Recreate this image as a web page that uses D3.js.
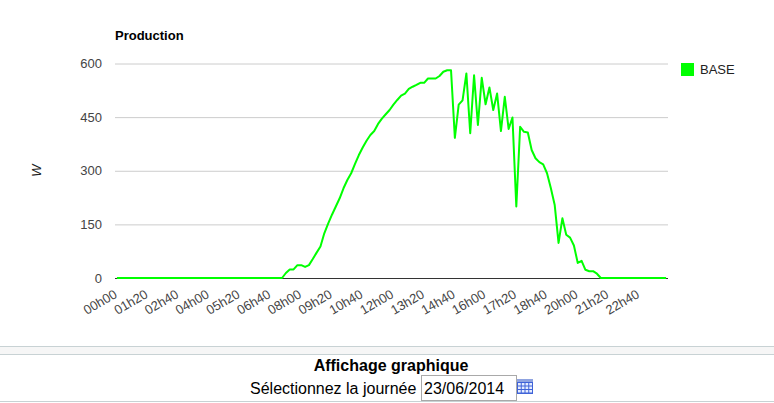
<!DOCTYPE html>
<html>
<head>
<meta charset="utf-8">
<script src="https://cdn.jsdelivr.net/npm/d3@7"></script>
<style>
    html, body { margin: 0; padding: 0; background: #fff; overflow: hidden; }
    text { font-family: "Liberation Sans", Arial, sans-serif; }
</style>
</head>
<body>
<svg id="chart" width="774" height="403"></svg>
<script>
// Power readings, one every 10 minutes (W)
const baseValues = [
    0, 0, 0, 0, 0, 0, 0, 0, 0, 0, 0, 0,
    0, 0, 0, 0, 0, 0, 0, 0, 0, 0, 0, 0,
    0, 0, 0, 0, 0, 0, 0, 0, 0, 0, 0, 0,
    0, 0, 0, 0, 0, 0, 0, 0, 14, 24, 24, 36,
    36, 31, 36, 53, 71, 88, 125, 152, 177, 200, 223, 251,
    274, 293, 319, 344, 365, 384, 400, 411, 431, 446, 458, 470,
    485, 498, 510, 516, 529, 535, 540, 546, 546, 558, 558, 558,
    565, 577, 581, 581, 392, 485, 497, 572, 405, 567, 428, 560,
    486, 533, 470, 516, 411, 507, 417, 449, 200, 423, 409, 407,
    358, 335, 324, 318, 293, 251, 204, 98, 167, 121, 113, 91,
    42, 48, 23, 19, 19, 12, 0, 0, 0, 0, 0, 0,
    0, 0, 0, 0, 0, 0, 0, 0, 0, 0, 0, 0
];
const xTickLabels = ["00h00", "01h20", "02h40", "04h00", "05h20", "06h40", "08h00", "09h20", "10h40",
    "12h00", "13h20", "14h40", "16h00", "17h20", "18h40", "20h00", "21h20", "22h40"];
const yTicks = [0, 150, 300, 450, 600];
const seriesName = "BASE";

const margin = { left: 115, right: 106, top: 63.5, bottom: 125 };
const width = 774;
const height = 403;
const green = "#00ff00";

const svg = d3.select("#chart");

const x = d3.scaleBand()
    .domain(d3.range(baseValues.length))
    .range([margin.left, width - margin.right]);

const y = d3.scaleLinear()
    .domain([0, 600])
    .range([height - margin.bottom, margin.top]);

// horizontal grid
const yAxis = svg.append("g")
    .attr("transform", `translate(${margin.left},0)`)
    .call(d3.axisLeft(y).tickValues(yTicks).tickSize(-(width - margin.left - margin.right)).tickPadding(13));
yAxis.select(".domain").remove();
yAxis.selectAll("line").attr("stroke", "#cccccc");
yAxis.selectAll("line").filter(d => d === 0).attr("stroke", "#333333");
yAxis.selectAll("text")
    .attr("fill", "#444444")
    .style("font-size", "13px");

// bottom labels, one every 8 points
const xAxis = svg.append("g")
    .attr("transform", `translate(0,${height - margin.bottom})`)
    .call(d3.axisBottom(x)
        .tickValues(xTickLabels.map((d, i) => i * 8))
        .tickFormat((d, i) => xTickLabels[i])
        .tickSize(0));
xAxis.select(".domain").remove();
xAxis.selectAll("text")
    .attr("fill", "#444444")
    .attr("text-anchor", "end")
    .attr("transform", "translate(-3.5,11) rotate(-30)")
    .attr("x", 0)
    .attr("y", 0)
    .attr("dy", "0.7em")
    .style("font-size", "13px");

const line = d3.line()
    .x((d, i) => x(i) + x.bandwidth() / 2)
    .y(d => y(d));

svg.append("path")
    .datum(baseValues)
    .attr("fill", "none")
    .attr("stroke", green)
    .attr("stroke-width", 2)
    .attr("stroke-linejoin", "round")
    .attr("d", line);

// titles
svg.append("text")
    .attr("x", 115)
    .attr("y", 39.5)
    .style("font-size", "13px")
    .style("font-weight", "bold")
    .attr("fill", "#000")
    .text("Production");

svg.append("text")
    .attr("transform", "translate(41,170.5) rotate(-90)")
    .attr("text-anchor", "middle")
    .style("font-size", "13px")
    .style("font-style", "italic")
    .attr("fill", "#222")
    .text("W");

// legend
svg.append("rect")
    .attr("x", 681)
    .attr("y", 63)
    .attr("width", 13)
    .attr("height", 13)
    .attr("fill", green);
svg.append("text")
    .attr("x", 700)
    .attr("y", 74)
    .style("font-size", "13px")
    .attr("fill", "#222")
    .text(seriesName);

// form block under the chart
svg.append("rect").attr("x", 0).attr("y", 347).attr("width", width).attr("height", 7).attr("fill", "#f6f6f6");
[346.5, 354.5, 401.5].forEach(py => {
    svg.append("line")
        .attr("x1", 0).attr("x2", width)
        .attr("y1", py).attr("y2", py)
        .attr("stroke", "#c8d2d4");
});

svg.append("text")
    .attr("x", 391)
    .attr("y", 371)
    .attr("text-anchor", "middle")
    .style("font-size", "16px")
    .style("font-weight", "bold")
    .attr("fill", "#000")
    .text("Affichage graphique");

svg.append("text")
    .attr("x", 250)
    .attr("y", 394)
    .style("font-size", "16px")
    .attr("fill", "#000")
    .text("Sélectionnez la journée");

svg.append("rect")
    .attr("x", 421.5)
    .attr("y", 375.5)
    .attr("width", 95)
    .attr("height", 25)
    .attr("fill", "#fff")
    .attr("stroke", "#a9a9a9");

svg.append("text")
    .attr("x", 424)
    .attr("y", 394)
    .style("font-size", "16px")
    .attr("fill", "#000")
    .text("23/06/2014");

// calendar icon
const icon = svg.append("g").attr("transform", "translate(517,379)");
icon.append("rect").attr("width", 16).attr("height", 15).attr("fill", "#3f63d8");
icon.append("rect").attr("width", 16).attr("height", 3).attr("fill", "#8fa3e0");
d3.range(3).forEach(r => d3.range(4).forEach(c => {
    icon.append("rect")
        .attr("x", 1 + c * 3.75)
        .attr("y", 4 + r * 3.5)
        .attr("width", 2.75)
        .attr("height", 2.5)
        .attr("fill", "#e6edff");
}));
</script>
</body>
</html>
